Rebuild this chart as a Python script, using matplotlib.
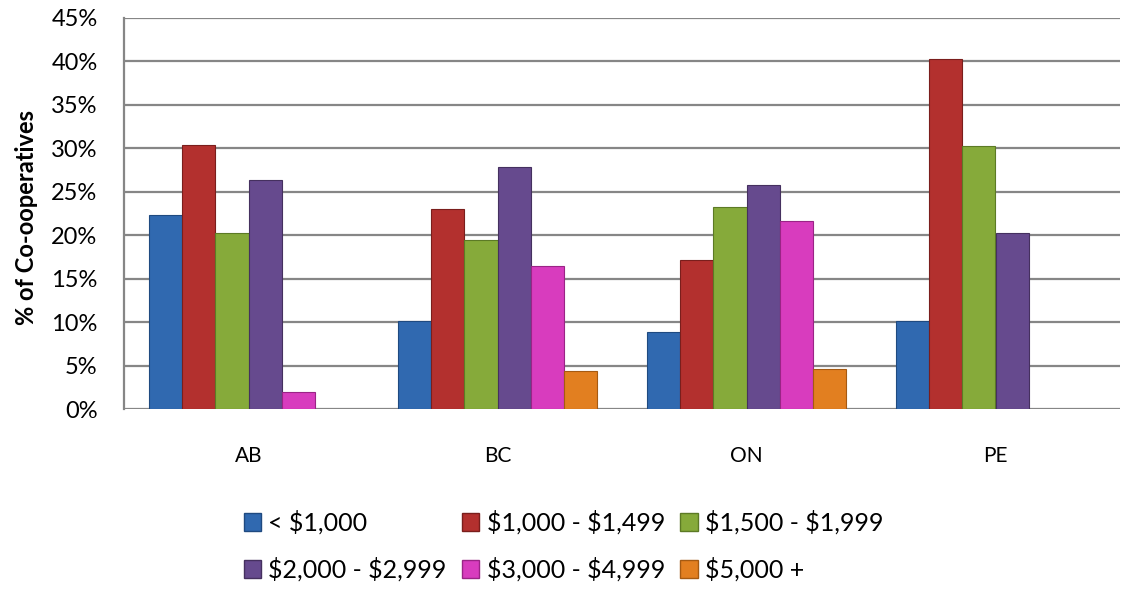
import numpy as np
import matplotlib.pyplot as plt
from matplotlib.patches import Patch

plt.rcParams['font.family'] = ['Lato', 'DejaVu Sans']
plt.rcParams['text.parse_math'] = False

# data
provinces = ['AB', 'BC', 'ON', 'PE']
series_names = ['< $1,000', '$1,000 - $1,499', '$1,500 - $1,999',
                '$2,000 - $2,999', '$3,000 - $4,999', '$5,000 +']
under_1000 = [22.3, 10.1, 8.9, 10.1]
from_1000 = [30.4, 23.0, 17.2, 40.3]
from_1500 = [20.2, 19.5, 23.2, 30.3]
from_2000 = [26.3, 27.9, 25.8, 20.2]
from_3000 = [1.9, 16.5, 21.6, 0.0]
over_5000 = [0.0, 4.4, 4.6, 0.0]
series = [under_1000, from_1000, from_1500, from_2000, from_3000, over_5000]
colors = ['#3069B0', '#B3302E', '#86AA3A', '#664A8E', '#D83CBE', '#E27F20']
edges = ['#1F4A80', '#7A1E1C', '#5C7A25', '#45305F', '#9A2486', '#A55A12']

fig = plt.figure(figsize=(11.21, 5.91), dpi=100)
ax = fig.add_axes([124 / 1121, (591 - 409) / 591, 996 / 1121, 391 / 591])

x = np.arange(len(provinces))
slot = 0.8 / len(series)
for i, vals in enumerate(series):
    vals = np.array(vals)
    keep = vals > 0
    pos = x + (i - 2.5) * slot
    ax.bar(pos[keep], vals[keep], width=slot, color=colors[i],
           edgecolor=edges[i], linewidth=0.8, zorder=3)

ax.set_xlim(-0.5, 3.5)
ax.set_ylim(0, 45)
ax.set_yticks(np.arange(0, 46, 5))
ax.set_yticklabels([f'{v}%' for v in range(0, 46, 5)])
ax.set_xticks(x)
ax.set_xticklabels(provinces)
ax.tick_params(axis='y', length=0, pad=19, labelsize=17)
ax.tick_params(axis='x', length=0, pad=27, labelsize=15)
ax.yaxis.grid(True, color='#868686', linewidth=1.6, zorder=0)
ax.set_axisbelow(True)
for s in ['top', 'right', 'bottom']:
    ax.spines[s].set_visible(False)
ax.spines['left'].set_color('#868686')
ax.spines['left'].set_linewidth(1.6)

ax.set_ylabel('% of Co-ooperatives', fontsize=17, fontweight='bold')
ax.yaxis.set_label_coords(-86 / 996, 0.49)

handles = [Patch(facecolor=colors[i], edgecolor=edges[i], label=series_names[i])
           for i in range(len(series))]
order = [0, 3, 1, 4, 2, 5]
fig.legend([handles[i] for i in order], [series_names[i] for i in order],
           ncol=3, loc='upper left', bbox_to_anchor=(221 / 1121, 1 - 488 / 591),
           frameon=False, fontsize=18, handlelength=0.7, handleheight=0.7,
           handletextpad=0.3, columnspacing=0.6, labelspacing=0.9)

fig.savefig('out.png', dpi=100)
